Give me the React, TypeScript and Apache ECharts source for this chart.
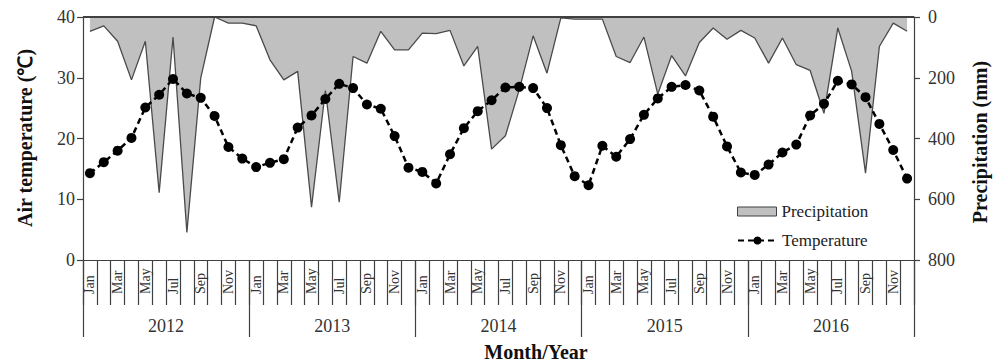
import React, { useEffect, useRef } from "react";
import * as echarts from "echarts";

const years = ["2012", "2013", "2014", "2015", "2016"];
const monthNames = ["Jan", "Feb", "Mar", "Apr", "May", "Jun", "Jul", "Aug", "Sep", "Oct", "Nov", "Dec"];
const months = years.flatMap(() => monthNames);

const precipitation = [
  47, 29, 80, 207, 80, 578, 66, 709, 201, 0, 20, 20,
  29, 141, 207, 179, 626, 242, 610, 130, 152, 47, 108, 108,
  53, 55, 44, 161, 97, 435, 391, 239, 62, 185, 3, 7,
  7, 7, 130, 150, 66, 254, 127, 194, 84, 36, 73, 44,
  69, 152, 69, 157, 176, 317, 36, 179, 514, 97, 20, 47,
];

const temperature = [
  14.3, 16.1, 18.0, 20.1, 25.1, 27.2, 29.8, 27.4, 26.7, 23.7, 18.6, 16.7,
  15.3, 16.0, 16.6, 21.8, 23.8, 26.5, 29.0, 28.3, 25.6, 24.9, 20.4, 15.2,
  14.5, 12.6, 17.4, 21.7, 24.5, 26.3, 28.4, 28.5, 28.3, 25.0, 18.9, 13.8,
  12.3, 18.8, 17.0, 19.9, 23.9, 26.6, 28.5, 28.8, 27.9, 23.6, 18.7, 14.4,
  14.0, 15.7, 17.7, 19.0, 23.8, 25.7, 29.5, 28.9, 26.8, 22.4, 18.1, 13.4,
];

const FONT = "'Liberation Serif', 'Times New Roman', serif";
const AXIS = "#404040";
const TXT = "#333";

export default function App() {
  const ref = useRef<HTMLDivElement>(null);
  useEffect(() => {
    if (!ref.current) return;
    const chart = echarts.init(ref.current, undefined, { renderer: "svg" });
    chart.setOption({
      animation: false,
      backgroundColor: "#fff",
      grid: { left: 83, right: 85, top: 17, bottom: 104, containLabel: false },
      legend: [
        {
          left: 737,
          top: 203,
          padding: 0,
          itemWidth: 39,
          itemHeight: 9,
          textStyle: { fontFamily: FONT, fontSize: 17, color: "#222" },
          data: [
            {
              name: "Precipitation",
              icon: "rect",
              itemStyle: { color: "#c0c0c0", borderColor: AXIS, borderWidth: 1 },
            },
          ],
        },
        {
          left: 737,
          top: 232,
          padding: 0,
          itemWidth: 39,
          itemHeight: 10,
          textStyle: { fontFamily: FONT, fontSize: 17, color: "#222" },
          data: ["Temperature"],
        },
      ],
      xAxis: [
        {
          type: "category",
          data: months,
          position: "bottom",
          boundaryGap: true,
          axisLine: { show: true, onZero: false, lineStyle: { color: AXIS, width: 1.2 } },
          axisTick: { show: true, interval: 0, length: 45, lineStyle: { color: AXIS, width: 1.2 } },
          axisLabel: {
            interval: 1,
            rotate: 90,
            margin: 34,
            align: "left",
            verticalAlign: "middle",
            fontFamily: FONT,
            fontSize: 14,
            color: TXT,
          },
          splitLine: { show: false },
        },
        {
          type: "category",
          data: years,
          position: "bottom",
          offset: 0,
          boundaryGap: true,
          axisLine: { show: false, onZero: false },
          axisTick: { show: true, interval: 0, length: 77, lineStyle: { color: AXIS, width: 1.2 } },
          axisLabel: { interval: 0, margin: 57, fontFamily: FONT, fontSize: 18, color: TXT },
          splitLine: { show: false },
        },
      ],
      yAxis: [
        {
          type: "value",
          min: 0,
          max: 40,
          interval: 10,
          position: "left",
          axisLine: { show: true, onZero: false, lineStyle: { color: AXIS, width: 1.2 } },
          axisTick: { show: true, length: 6, lineStyle: { color: AXIS, width: 1.2 } },
          axisLabel: { margin: 8, fontFamily: FONT, fontSize: 18, color: TXT },
          splitLine: { show: false },
        },
        {
          type: "value",
          min: 0,
          max: 800,
          interval: 200,
          inverse: true,
          position: "right",
          axisLine: { show: true, onZero: false, lineStyle: { color: AXIS, width: 1.2 } },
          axisTick: { show: true, length: 6, lineStyle: { color: AXIS, width: 1.2 } },
          axisLabel: { margin: 14, fontFamily: FONT, fontSize: 18, color: TXT },
          splitLine: { show: false },
        },
      ],
      series: [
        {
          name: "Precipitation",
          type: "line",
          xAxisIndex: 0,
          yAxisIndex: 1,
          data: precipitation,
          symbol: "none",
          lineStyle: { color: "#4a4a4a", width: 1.3 },
          itemStyle: { color: "#c0c0c0" },
          areaStyle: { color: "#c0c0c0", opacity: 1 },
          markLine: {
            silent: true,
            symbol: "none",
            label: { show: false },
            lineStyle: { color: AXIS, width: 1.8, type: "solid" },
            data: [{ yAxis: 0 }],
          },
          z: 1,
        },
        {
          name: "Temperature",
          type: "line",
          xAxisIndex: 0,
          yAxisIndex: 0,
          data: temperature,
          symbol: "circle",
          symbolSize: 10,
          showAllSymbol: true,
          lineStyle: { color: "#000", width: 2.5, type: [6, 4] },
          itemStyle: { color: "#000" },
          z: 3,
        },
      ],
      graphic: [
        {
          type: "text",
          x: 25,
          y: 138,
          rotation: Math.PI / 2,
          style: {
            text: "Air temperature (℃)",
            align: "center",
            verticalAlign: "middle",
            font: `bold 20px ${FONT}`,
            fill: "#111",
          },
        },
        {
          type: "text",
          x: 980,
          y: 142,
          rotation: Math.PI / 2,
          style: {
            text: "Precipitation (mm)",
            align: "center",
            verticalAlign: "middle",
            font: `bold 20px ${FONT}`,
            fill: "#111",
          },
        },
        {
          type: "text",
          x: 536,
          y: 352,
          style: {
            text: "Month/Year",
            align: "center",
            verticalAlign: "middle",
            font: `bold 20px ${FONT}`,
            fill: "#111",
          },
        },
      ],
    });
    return () => chart.dispose();
  }, []);
  return (
    <div
      ref={ref}
      style={{ position: "fixed", left: 0, top: 0, width: 999, height: 364, background: "#fff" }}
    />
  );
}
